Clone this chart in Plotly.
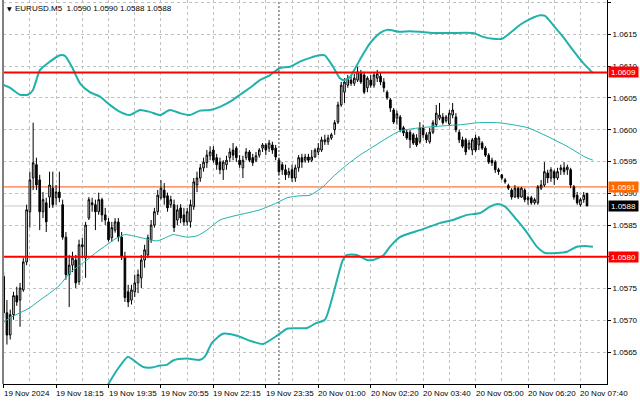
import plotly.graph_objects as go

# ---------------- data ----------------
bar_open = [1.05769,1.05712,1.05677,1.05709,1.05739,1.05732,1.05748,1.05792,1.05871,1.05924,
 1.05945,1.05921,1.05871,1.05885,1.05894,1.05908,1.05893,1.05902,1.05882,1.05831,
 1.05772,1.05787,1.05795,1.05761,1.05816,1.05798,1.05861,1.05885,1.05882,1.05871,
 1.05890,1.05866,1.05855,1.05830,1.05842,1.05855,1.05831,1.05800,1.05745,1.05732,
 1.05745,1.05759,1.05767,1.05795,1.05803,1.05827,1.05850,1.05871,1.05893,1.05905,
 1.05896,1.05882,1.05882,1.05858,1.05877,1.05866,1.05855,1.05855,1.05879,1.05913,
 1.05924,1.05940,1.05948,1.05959,1.05968,1.05956,1.05949,1.05937,1.05945,1.05956,
 1.05968,1.05971,1.05952,1.05940,1.05956,1.05965,1.05956,1.05952,1.05960,1.05971,
 1.05976,1.05971,1.05976,1.05971,1.05952,1.05945,1.05937,1.05929,1.05937,1.05924,
 1.05940,1.05956,1.05952,1.05957,1.05952,1.05957,1.05965,1.05968,1.05981,1.05981,
 1.05987,1.06000,1.06012,1.06039,1.06059,1.06070,1.06078,1.06073,1.06078,1.06089,
 1.06086,1.06066,1.06078,1.06070,1.06081,1.06084,1.06075,1.06059,1.06047,1.06031,
 1.06018,1.06020,1.06003,1.05996,1.05996,1.05992,1.05987,1.05981,1.06003,1.05992,
 1.05981,1.05996,1.06008,1.06018,1.06020,1.06014,1.06009,1.06023,1.06020,1.05996,
 1.05984,1.05984,1.05971,1.05968,1.05987,1.05976,1.05979,1.05971,1.05960,1.05952,
 1.05949,1.05937,1.05929,1.05921,1.05912,1.05905,1.05894,1.05908,1.05894,1.05905,
 1.05890,1.05893,1.05885,1.05885,1.05908,1.05913,1.05932,1.05924,1.05934,1.05924,
 1.05937,1.05940,1.05937,1.05937,1.05910,1.05897,1.05882,1.05890,1.05900]
bar_high = [1.05776,1.05732,1.05717,1.05745,1.05753,1.05759,1.05798,1.05882,1.05934,1.06011,
 1.05956,1.05929,1.05902,1.05893,1.05934,1.05934,1.05913,1.05934,1.05890,1.05839,
 1.05803,1.05808,1.05803,1.05827,1.05830,1.05855,1.05894,1.05893,1.05890,1.05901,
 1.05893,1.05877,1.05861,1.05855,1.05861,1.05861,1.05839,1.05808,1.05756,1.05756,
 1.05772,1.05780,1.05803,1.05819,1.05835,1.05858,1.05877,1.05905,1.05921,1.05916,
 1.05901,1.05896,1.05890,1.05882,1.05883,1.05877,1.05877,1.05890,1.05924,1.05934,
 1.05946,1.05956,1.05968,1.05974,1.05974,1.05962,1.05956,1.05952,1.05959,1.05971,
 1.05979,1.05974,1.05960,1.05959,1.05971,1.05968,1.05962,1.05965,1.05971,1.05979,
 1.05979,1.05984,1.05981,1.05976,1.05956,1.05949,1.05945,1.05940,1.05945,1.05945,
 1.05960,1.05962,1.05962,1.05962,1.05968,1.05971,1.05979,1.05989,1.05992,1.05992,
 1.05995,1.06015,1.06044,1.06075,1.06081,1.06086,1.06084,1.06088,1.06099,1.06094,
 1.06091,1.06084,1.06086,1.06089,1.06094,1.06089,1.06081,1.06062,1.06050,1.06034,
 1.06030,1.06023,1.06006,1.06000,1.06000,1.05995,1.05993,1.06012,1.06008,1.05996,
 1.06003,1.06015,1.06039,1.06042,1.06026,1.06023,1.06031,1.06042,1.06026,1.06000,
 1.05989,1.05987,1.05984,1.05987,1.05992,1.05990,1.05982,1.05974,1.05963,1.05956,
 1.05952,1.05940,1.05930,1.05924,1.05915,1.05908,1.05913,1.05910,1.05910,1.05908,
 1.05896,1.05896,1.05893,1.05913,1.05921,1.05949,1.05937,1.05941,1.05937,1.05940,
 1.05945,1.05949,1.05945,1.05940,1.05913,1.05902,1.05893,1.05902,1.05900]
bar_low = [1.05704,1.05662,1.05670,1.05701,1.05723,1.05690,1.05745,1.05787,1.05846,1.05905,
 1.05905,1.05842,1.05861,1.05839,1.05877,1.05877,1.05882,1.05886,1.05827,1.05764,
 1.05721,1.05776,1.05751,1.05756,1.05798,1.05767,1.05858,1.05871,1.05842,1.05866,
 1.05855,1.05850,1.05824,1.05824,1.05838,1.05824,1.05795,1.05729,1.05721,1.05725,
 1.05737,1.05743,1.05751,1.05783,1.05798,1.05822,1.05846,1.05866,1.05890,1.05882,
 1.05871,1.05877,1.05839,1.05850,1.05853,1.05849,1.05849,1.05846,1.05874,1.05902,
 1.05918,1.05934,1.05940,1.05952,1.05948,1.05937,1.05930,1.05921,1.05937,1.05949,
 1.05952,1.05949,1.05940,1.05924,1.05952,1.05949,1.05943,1.05949,1.05956,1.05965,
 1.05960,1.05965,1.05962,1.05952,1.05929,1.05929,1.05921,1.05924,1.05918,1.05918,
 1.05934,1.05940,1.05948,1.05948,1.05949,1.05956,1.05960,1.05965,1.05976,1.05976,
 1.05984,1.05992,1.06009,1.06036,1.06042,1.06066,1.06069,1.06069,1.06075,1.06072,
 1.06056,1.06059,1.06066,1.06066,1.06075,1.06070,1.06059,1.06047,1.06028,1.06009,
 1.06008,1.05996,1.05990,1.05984,1.05971,1.05976,1.05973,1.05978,1.05987,1.05979,
 1.05978,1.05993,1.06004,1.06015,1.06008,1.06011,1.06006,1.06018,1.05996,1.05979,
 1.05971,1.05960,1.05968,1.05960,1.05965,1.05968,1.05968,1.05957,1.05946,1.05943,
 1.05932,1.05929,1.05921,1.05915,1.05905,1.05890,1.05893,1.05891,1.05893,1.05886,
 1.05882,1.05882,1.05882,1.05882,1.05905,1.05910,1.05916,1.05918,1.05913,1.05921,
 1.05929,1.05929,1.05929,1.05908,1.05890,1.05882,1.05879,1.05885,1.05880]
bar_close = [1.05712,1.05677,1.05709,1.05739,1.05729,1.05751,1.05792,1.05874,1.05921,1.05948,
 1.05913,1.05871,1.05890,1.05855,1.05913,1.05882,1.05902,1.05893,1.05831,1.05772,
 1.05787,1.05798,1.05759,1.05819,1.05819,1.05850,1.05890,1.05882,1.05871,1.05890,
 1.05866,1.05858,1.05827,1.05846,1.05855,1.05831,1.05800,1.05736,1.05729,1.05748,
 1.05759,1.05772,1.05795,1.05811,1.05830,1.05850,1.05871,1.05897,1.05908,1.05893,
 1.05877,1.05890,1.05846,1.05874,1.05861,1.05855,1.05871,1.05882,1.05918,1.05924,
 1.05940,1.05949,1.05960,1.05965,1.05952,1.05945,1.05937,1.05949,1.05952,1.05965,
 1.05960,1.05956,1.05945,1.05952,1.05965,1.05952,1.05948,1.05959,1.05968,1.05976,
 1.05968,1.05979,1.05968,1.05957,1.05934,1.05937,1.05929,1.05934,1.05924,1.05940,
 1.05956,1.05949,1.05957,1.05952,1.05957,1.05968,1.05971,1.05984,1.05984,1.05987,
 1.05992,1.06011,1.06039,1.06070,1.06075,1.06081,1.06073,1.06081,1.06091,1.06075,
 1.06059,1.06081,1.06070,1.06086,1.06088,1.06075,1.06066,1.06050,1.06034,1.06012,
 1.06025,1.06000,1.05995,1.05987,1.05984,1.05979,1.05976,1.06003,1.05992,1.05984,
 1.05996,1.06011,1.06026,1.06023,1.06011,1.06020,1.06026,1.06031,1.06000,1.05984,
 1.05974,1.05965,1.05979,1.05984,1.05968,1.05987,1.05971,1.05960,1.05949,1.05948,
 1.05937,1.05934,1.05924,1.05918,1.05908,1.05894,1.05908,1.05894,1.05908,1.05890,
 1.05893,1.05885,1.05890,1.05910,1.05913,1.05934,1.05924,1.05937,1.05924,1.05934,
 1.05940,1.05934,1.05941,1.05913,1.05894,1.05885,1.05890,1.05897,1.05880]
bar_index = list(range(len(bar_close)))

# Bollinger-style envelope lines (bar position, price)
upper_x = [-1.1,1.9,5.0,7.4,8.9,11.1,14.1,17.2,18.7,20.8,23.3,26.3,29.4,32.4,35.5,38.5,41.6,44.6,47.7,
 50.7,53.8,56.8,59.9,63.0,66.0,69.1,72.1,75.2,78.2,81.3,84.3,87.4,90.4,93.5,96.5,98.0,100.5,102.6,
 104.1,105.7,108.7,111.8,114.8,117.0,120.9,124.0,127.0,131.0,136.2,143.2,146.3,149.3,152.1,154.5,
 157.6,160.6,163.7,165.2,167.6,170.7,173.7,176.8,179.8]
upper_y = [1.06073,1.06066,1.06055,1.06055,1.06062,1.06094,1.06107,1.06117,1.06116,1.06099,1.06073,
 1.06059,1.06052,1.06039,1.06028,1.06023,1.06031,1.06028,1.06023,1.06031,1.06026,1.06023,1.06030,
 1.06031,1.06036,1.06044,1.06055,1.06066,1.06078,1.06086,1.06097,1.06099,1.06107,1.06113,1.06117,
 1.06117,1.06099,1.06081,1.06078,1.06083,1.06110,1.06136,1.06152,1.06157,1.06154,1.06155,1.06154,
 1.06152,1.06152,1.06152,1.06146,1.06143,1.06143,1.06152,1.06165,1.06174,1.06180,1.06179,1.06165,
 1.06146,1.06125,1.06105,1.06089]
lower_x = [29.4,34.6,37.9,39.5,42.5,45.3,47.7,49.8,51.7,55.9,59.9,61.4,63.6,66.9,71.2,75.2,79.1,83.7,
 86.5,92.6,95.0,98.0,100.5,103.5,104.8,107.8,110.9,112.7,115.8,117.9,120.9,127.0,133.1,137.1,141.4,
 145.4,148.4,150.8,153.0,156.6,159.7,162.7,165.2,168.8,171.9,174.9,177.4,179.8]
lower_y = [1.05578,1.05622,1.05643,1.05638,1.05627,1.05626,1.05629,1.05630,1.05637,1.05640,1.05638,
 1.05643,1.05665,1.05679,1.05676,1.05668,1.05663,1.05677,1.05687,1.05688,1.05695,1.05701,1.05740,
 1.05795,1.05803,1.05803,1.05795,1.05795,1.05802,1.05816,1.05831,1.05842,1.05853,1.05858,1.05866,
 1.05869,1.05879,1.05883,1.05879,1.05858,1.05838,1.05816,1.05806,1.05806,1.05808,1.05816,1.05817,
 1.05816]
ma_x = [-1.1,1.9,5.0,8.0,11.1,14.1,17.2,20.2,23.3,25.4,28.5,31.5,34.6,37.0,39.5,43.7,46.8,49.8,51.7,
 55.9,59.0,62.0,66.0,70.0,74.3,78.2,83.4,86.5,90.4,93.5,97.4,100.5,104.8,108.7,112.7,117.0,120.9,
 127.0,134.1,139.9,144.7,150.8,153.9,160.0,166.1,172.2,177.4,179.8]
ma_y = [1.05693,1.05704,1.05712,1.05720,1.05732,1.05743,1.05756,1.05775,1.05787,1.05795,1.05808,
 1.05819,1.05830,1.05835,1.05833,1.05828,1.05825,1.05831,1.05835,1.05831,1.05833,1.05842,1.05858,
 1.05864,1.05869,1.05874,1.05885,1.05893,1.05896,1.05897,1.05910,1.05926,1.05945,1.05960,1.05973,
 1.05987,1.05998,1.06003,1.06006,1.06008,1.06011,1.06011,1.06009,1.06003,1.05989,1.05973,1.05957,
 1.05952]

# horizontal price levels
level_prices = [1.0609, 1.0591, 1.0588, 1.0580]
level_colors = ["#ff0000", "#ff5010", "#c8c8c8", "#ff0000"]
level_widths = [2, 1, 1, 2]
label_bg = ["#ff0000", "#ff6a00", "#000000", "#ff0000"]

# time axis labels
time_tick_pos = [0, 16, 32, 48, 64, 80, 96, 112, 128, 144, 160, 176]
time_tick_text = ["19 Nov 2024", "19 Nov 18:15", "19 Nov 19:35", "19 Nov 20:55", "19 Nov 22:15",
                  "19 Nov 23:35", "20 Nov 01:00", "20 Nov 02:20", "20 Nov 03:40", "20 Nov 05:00",
                  "20 Nov 06:20", "20 Nov 07:40"]
price_ticks = [1.0565, 1.0570, 1.0575, 1.0580, 1.0585, 1.0590, 1.0595, 1.0600, 1.0605, 1.0610, 1.0615, 1.0620]
day_separator = 84
header = "EURUSD.M5  1.0590 1.0590 1.0588 1.0588"

# ---------------- figure ----------------
FONT = "Liberation Sans, Arial, DejaVu Sans"
teal = "#20b2aa"
grid = "#c0c0c0"

fig = go.Figure()
fig.add_trace(go.Scatter(x=ma_x, y=ma_y, mode="lines", line=dict(color=teal, width=1, shape="spline", smoothing=0.6), hoverinfo="skip"))
fig.add_trace(go.Scatter(x=upper_x, y=upper_y, mode="lines", line=dict(color=teal, width=2, shape="spline", smoothing=0.6), hoverinfo="skip"))
fig.add_trace(go.Scatter(x=lower_x, y=lower_y, mode="lines", line=dict(color=teal, width=2, shape="spline", smoothing=0.6), hoverinfo="skip"))
fig.add_trace(go.Candlestick(
    x=bar_index, open=bar_open, high=bar_high, low=bar_low, close=bar_close,
    increasing=dict(fillcolor="#ffffff", line=dict(color="#000000", width=1)),
    decreasing=dict(fillcolor="#000000", line=dict(color="#000000", width=1)),
    whiskerwidth=0,
))

shapes = []
# day separator
shapes.append(dict(type="line", xref="x", yref="paper", x0=day_separator, x1=day_separator, y0=0, y1=1,
                   line=dict(color="#404040", width=1, dash="2px,2px"), layer="below"))
for p, c, w in zip(level_prices, level_colors, level_widths):
    shapes.append(dict(type="line", xref="paper", yref="y", x0=0, x1=1, y0=p, y1=p,
                       line=dict(color=c, width=w), layer="above" if w == 2 else "below"))
# left frame line
shapes.append(dict(type="line", xref="paper", yref="paper", x0=0, x1=0, y0=0, y1=1,
                   line=dict(color="#808080", width=2)))

annotations = []
for pos, txt in zip(time_tick_pos, time_tick_text):
    annotations.append(dict(x=pos, xref="x", y=0, yref="paper", yanchor="top", xanchor="left",
                            yshift=-3, xshift=-2, text=txt, showarrow=False,
                            font=dict(family=FONT, size=8, color="#000000")))
for p, bg in zip(level_prices, label_bg):
    annotations.append(dict(x=1, xref="paper", y=p, yref="y", xanchor="left", yanchor="middle",
                            xshift=1, text=f"{p:.4f}", showarrow=False, bgcolor=bg, borderpad=0,
                            width=29, height=10, align="center",
                            font=dict(family=FONT, size=8, color="#ffffff")))
annotations.append(dict(x=0, xref="paper", y=1, yref="paper", xanchor="left", yanchor="top",
                        xshift=2, yshift=-3, text="▼", showarrow=False,
                        font=dict(family="DejaVu Sans", size=6, color="#000000")))
annotations.append(dict(x=0, xref="paper", y=1, yref="paper", xanchor="left", yanchor="top",
                        xshift=10, yshift=-2, text=header, showarrow=False,
                        font=dict(family=FONT, size=8, color="#000000")))

fig.update_layout(
    width=640, height=401,
    margin=dict(l=3, r=33, t=0, b=17),
    paper_bgcolor="#ffffff", plot_bgcolor="#ffffff",
    showlegend=False,
    shapes=shapes, annotations=annotations,
    xaxis=dict(range=[-0.2, 184.1], tickmode="array", tickvals=time_tick_pos, showticklabels=False,
               ticks="outside", ticklen=3, tickcolor="#000000",
               showgrid=True, gridcolor=grid, griddash="3px,3px", gridwidth=1,
               minor=dict(tickmode="linear", tick0=8, dtick=16, showgrid=True, gridcolor=grid,
                          griddash="3px,3px", gridwidth=1, ticks=""),
               showline=True, linecolor="#000000", linewidth=1, zeroline=False,
               rangeslider=dict(visible=False), fixedrange=True),
    yaxis=dict(side="right", range=[1.05600, 1.06204], tickmode="array", tickvals=price_ticks,
               tickformat=".4f", ticks="outside", ticklen=3, tickcolor="#000000",
               tickfont=dict(family=FONT, size=8, color="#000000"),
               showgrid=True, gridcolor=grid, griddash="3px,3px", gridwidth=1,
               showline=True, linecolor="#000000", linewidth=1, zeroline=False, fixedrange=True),
)
fig.write_html("out.html", config={"displayModeBar": False},
               post_script="document.body.style.margin='0';document.body.style.overflow='hidden';")
